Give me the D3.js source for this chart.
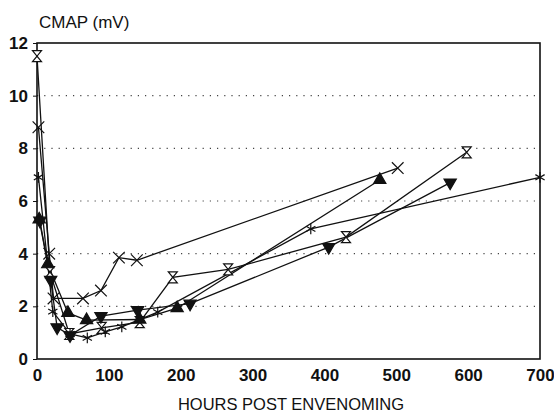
<!DOCTYPE html>
<html>
<head>
<meta charset="utf-8">
<script src="https://cdn.jsdelivr.net/npm/d3@7"></script>
<style>
  body { margin: 0; background: #fff; }
  text { font-family: "Liberation Sans", Arial, sans-serif; fill: #111; }
</style>
</head>
<body>
<svg id="chart" width="554" height="414"></svg>
<script>
(function() {
    var width = 554, height = 414

    // values (hours, mV)
    const hourglass = [[0, 11.5], [18, 3.3], [45, 0.95], [90, 1.18], [143, 1.4], [189, 3.1], [266, 3.4], [430, 4.63], [598, 7.85]];
    const cross = [[2, 8.8], [17, 4.0], [23, 2.3], [64, 2.3], [89, 2.6], [114, 3.85], [139, 3.75], [502, 7.25]];
    const asterisk = [[2, 6.9], [22, 1.8], [46, 0.95], [70, 0.8], [95, 1.03], [118, 1.22], [168, 1.78], [381, 4.94], [700, 6.9]];
    const triUp = [[3, 5.3], [15, 3.6], [43, 1.75], [69, 1.48], [143, 1.5], [195, 1.93], [477, 6.8]];
    const triDown = [[4, 5.25], [19, 3.0], [28, 1.2], [46, 0.9], [89, 1.63], [140, 1.86], [213, 2.1], [406, 4.25], [575, 6.7]];

    const xTicks = [0, 100, 200, 300, 400, 500, 600, 700];
    const yTicks = [0, 2, 4, 6, 8, 10, 12];
    const gridTicks = [2, 4, 6, 8, 10];

    const margin = {left: 37, right: 14, top: 43, bottom: 55};

    const x = d3.scaleLinear().domain([0, 700]).range([margin.left, width - margin.right]);
    const y = d3.scaleLinear().domain([0, 12]).range([height - margin.bottom, margin.top]);

    const svg = d3.select("#chart");

    // dotted grid
    svg.append('g')
        .selectAll("line")
        .data(gridTicks)
        .join("line")
        .attr("x1", x(0))
        .attr("x2", x(700))
        .attr("y1", d => y(d))
        .attr("y2", d => y(d))
        .attr("stroke", "#444")
        .attr("stroke-width", 1.2)
        .attr("stroke-dasharray", "1.2,6");

    // frame
    svg.append("rect")
        .attr("x", x(0))
        .attr("y", y(12))
        .attr("width", x(700) - x(0))
        .attr("height", y(0) - y(12))
        .attr("fill", "none")
        .attr("stroke", "#111")
        .attr("stroke-width", 1.6);

    // axes (labels only, frame already drawn)
    let xAxis = svg.append('g')
        .attr('transform', `translate(0,${y(0)})`)
        .call(d3.axisBottom(x).tickValues(xTicks).tickSize(0).tickPadding(10).tickFormat(d3.format("d")));
    xAxis.select(".domain").remove();
    xAxis.selectAll("text").attr("font-size", 17).attr("font-weight", "bold").attr("fill", "#111");

    let yAxis = svg.append('g')
        .attr('transform', `translate(${x(0)},0)`)
        .call(d3.axisLeft(y).tickValues(yTicks).tickSize(4).tickPadding(5).tickFormat(d3.format("d")));
    yAxis.select(".domain").remove();
    yAxis.selectAll("line").attr("stroke", "#111");
    yAxis.selectAll("text").attr("font-size", 17).attr("font-weight", "bold").attr("fill", "#111");

    svg.append("text")
        .attr("x", 39)
        .attr("y", 28)
        .attr("font-size", 17)
        .text("CMAP (mV)");

    svg.append("text")
        .attr("x", 291)
        .attr("y", 410)
        .attr("text-anchor", "middle")
        .attr("font-size", 16.5)
        .text("HOURS POST ENVENOMING");

    const line = d3.line().x(d => x(d[0])).y(d => y(d[1]));

    const hourglassPath = "M-4.5,-5.5L4.5,-5.5L0,0L4.5,5.5L-4.5,5.5L0,0Z";
    const series = [
        {data: cross, symbol: d3.symbol(d3.symbolTimes, 90)(), fill: "none", rot: 0},
        {data: hourglass, symbol: hourglassPath, fill: "#fff", rot: 0},
        {data: asterisk, symbol: d3.symbol(d3.symbolAsterisk, 80)(), fill: "none", rot: 0},
        {data: triUp, symbol: d3.symbol(d3.symbolTriangle, 65)(), fill: "#111", rot: 0},
        {data: triDown, symbol: d3.symbol(d3.symbolTriangle, 65)(), fill: "#111", rot: 180}
    ];

    series.forEach((s) => {
        svg.append("path")
            .datum(s.data)
            .attr("d", line)
            .attr("fill", "none")
            .attr("stroke", "#111")
            .attr("stroke-width", 1.3);
    });

    series.forEach((s) => {
        svg.append('g')
            .selectAll("path")
            .data(s.data)
            .join("path")
            .attr("d", s.symbol)
            .attr("transform", d => `translate(${x(d[0])},${y(d[1])}) rotate(${s.rot})`)
            .attr("fill", s.fill)
            .attr("stroke", "#111")
            .attr("stroke-width", 1.2);
    });
})()
</script>
</body>
</html>
